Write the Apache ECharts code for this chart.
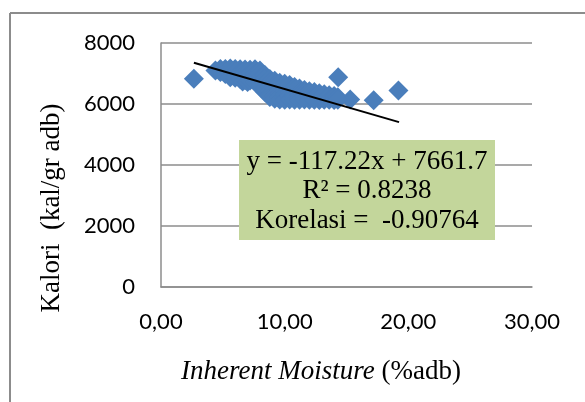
<!DOCTYPE html>
<html>
<head>
<meta charset="utf-8">
<script src="https://cdn.jsdelivr.net/npm/echarts@6/dist/echarts.min.js"></script>
<style>
html,body{margin:0;padding:0;background:#fff;}
#chart{width:585px;height:402px;}
</style>
</head>
<body>
<div id="chart"></div>
<script>
// Inherent Moisture (%adb) values
var moistureX = [
  2.66, 14.33, 15.3, 17.2, 19.2,
  4.4,
  4.8, 4.8,
  5.2, 5.2, 5.2,
  5.6, 5.6, 5.6, 5.6,
  6.0, 6.0, 6.0, 6.0,
  6.4, 6.4, 6.4, 6.4,
  6.6,
  6.8, 6.8, 6.8, 6.8,
  7.0,
  7.2, 7.2, 7.2, 7.2,
  7.6, 7.6, 7.6, 7.6,
  8.0, 8.0, 8.0, 8.0, 8.0,
  8.4, 8.4, 8.4, 8.4, 8.4,
  8.8, 8.8, 8.8, 8.8, 8.8, 8.8,
  9.2, 9.2, 9.2, 9.2, 9.2, 9.2,
  9.6, 9.6, 9.6, 9.6, 9.6, 9.6,
  10.0, 10.0, 10.0, 10.0, 10.0, 10.0,
  10.4, 10.4, 10.4, 10.4, 10.4,
  10.8, 10.8, 10.8, 10.8, 10.8,
  11.2, 11.2, 11.2, 11.2, 11.2,
  11.6, 11.6, 11.6, 11.6,
  12.0, 12.0, 12.0, 12.0,
  12.4, 12.4, 12.4, 12.4,
  12.8, 12.8, 12.8, 12.8,
  13.2, 13.2, 13.2, 13.2,
  13.6, 13.6, 13.6,
  14.0, 14.0, 14.0,
  14.3, 14.3
];
// Kalori (kal/gr adb) values
var kaloriY = [
  6830, 6875, 6150, 6120, 6440,
  7100,
  7150, 7050,
  7150, 7050, 6980,
  7160, 7060, 6990, 6880,
  7150, 7040, 6960, 6860,
  7140, 7050, 6930, 6820,
  6740,
  7130, 7020, 6900, 6790,
  6720,
  7120, 7000, 6880, 6770,
  7140, 7010, 6870, 6750,
  7100, 6980, 6850, 6700, 6560,
  6950, 6820, 6680, 6520, 6400,
  6820, 6700, 6560, 6420, 6300, 6230,
  6760, 6640, 6500, 6380, 6260, 6170,
  6700, 6580, 6460, 6340, 6230, 6150,
  6660, 6540, 6420, 6310, 6200, 6140,
  6620, 6500, 6380, 6270, 6150,
  6560, 6450, 6340, 6240, 6140,
  6510, 6400, 6300, 6200, 6140,
  6460, 6360, 6260, 6150,
  6420, 6320, 6230, 6140,
  6390, 6300, 6210, 6140,
  6350, 6270, 6190, 6130,
  6320, 6240, 6170, 6140,
  6290, 6210, 6140,
  6260, 6180, 6130,
  6220, 6140
];
// Linear trendline (from the chart's equation), spanning the data range
var trendSlope = -117.22;
var trendIntercept = 7661.7;
var trendX = [2.66, 19.25];
var xTicks = [0, 10, 20, 30];
var yTicks = [0, 2000, 4000, 6000, 8000];
var annotationLines = ['y = -117.22x + 7661.7', 'R² = 0.8238', 'Korelasi =  -0.90764'];

var scatterData = moistureX.map(function (x, i) { return [x, kaloriY[i]]; });
var trendData = trendX.map(function (x) { return [x, trendSlope * x + trendIntercept]; });

var chart = echarts.init(document.getElementById('chart'), null, {renderer: 'canvas'});
var tickFont = 'Lato, "Open Sans", sans-serif';
var serif = '"Liberation Serif", "Times New Roman", serif';

chart.setOption({
  animation: false,
  backgroundColor: '#ffffff',
  grid: {left: 161, right: 53, top: 43, bottom: 115, containLabel: false},
  xAxis: {
    type: 'value',
    min: xTicks[0], max: xTicks[xTicks.length - 1], interval: 10,
    axisLine: {show: true, lineStyle: {color: '#8c8c8c', width: 1.5}},
    axisTick: {show: false},
    splitLine: {show: false},
    axisLabel: {
      margin: 24, fontFamily: tickFont, fontSize: 22, color: '#000',
      formatter: function (v) { return v.toFixed(2).replace('.', ','); }
    }
  },
  yAxis: {
    type: 'value',
    min: yTicks[0], max: yTicks[yTicks.length - 1], interval: 2000,
    axisLine: {show: true, lineStyle: {color: '#8c8c8c', width: 1.5}},
    axisTick: {show: false},
    splitLine: {show: true, lineStyle: {color: '#8c8c8c', width: 1.5}},
    axisLabel: {
      margin: 26, fontFamily: tickFont, fontSize: 22, color: '#000',
      formatter: function (v) { return String(v); }
    }
  },
  series: [
    {
      type: 'scatter',
      data: scatterData,
      symbol: 'diamond',
      symbolSize: 20,
      itemStyle: {color: '#4a7ebb', opacity: 1},
      z: 2
    },
    {
      type: 'line',
      data: trendData,
      symbol: 'none',
      lineStyle: {color: '#000', width: 2},
      z: 3
    }
  ],
  graphic: [
    {type: 'line', shape: {x1: 10, y1: 13, x2: 585, y2: 13}, style: {stroke: '#8c8c8c', lineWidth: 2}},
    {type: 'line', shape: {x1: 10, y1: 13, x2: 10, y2: 402}, style: {stroke: '#8c8c8c', lineWidth: 2}},
    {type: 'rect', shape: {x: 239, y: 140, width: 256, height: 100}, style: {fill: '#c3d69b'}, z: 10},
    {
      type: 'text', x: 367, y: 191, z: 11,
      style: {
        text: annotationLines.join('\n'),
        font: '27px ' + serif,
        lineHeight: 29.5,
        fill: '#000',
        align: 'center',
        verticalAlign: 'middle'
      }
    },
    {
      type: 'text', x: 52, y: 208, rotation: Math.PI / 2, z: 11,
      style: {
        text: 'Kalori  (kal/gr adb)',
        font: '27px ' + serif,
        fill: '#000',
        align: 'center',
        verticalAlign: 'middle'
      }
    },
    {
      type: 'text', x: 321, y: 372, z: 11,
      style: {
        text: '{i|Inherent Moisture} (%adb)',
        font: '27px ' + serif,
        fill: '#000',
        align: 'center',
        verticalAlign: 'middle',
        rich: {i: {fontStyle: 'italic', fontFamily: serif, fontSize: 27, fill: '#000'}}
      }
    }
  ]
});
</script>
</body>
</html>
